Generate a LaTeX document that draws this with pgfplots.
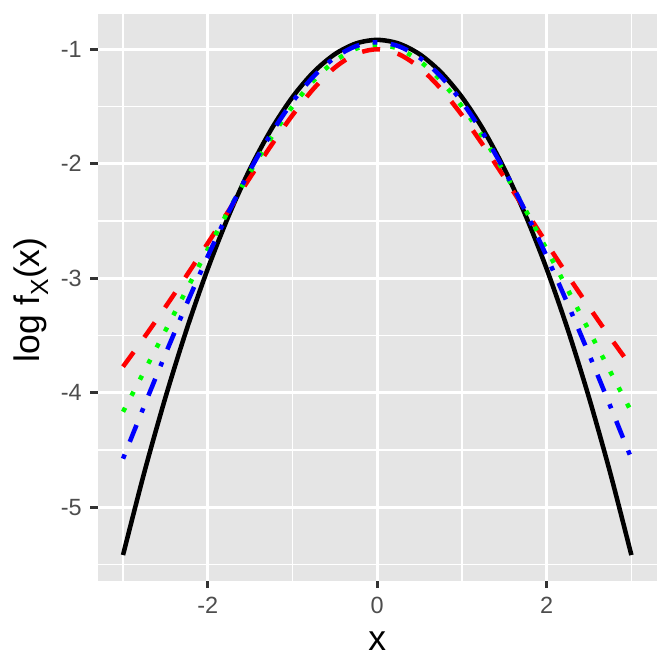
\documentclass[border=0pt]{standalone}
\usepackage{fontspec}
\setmainfont{Liberation Sans}
\usepackage{pgfplots}
\pgfplotsset{compat=1.18}
\definecolor{panel}{HTML}{E5E5E5}
\definecolor{tickc}{HTML}{333333}
\definecolor{labc}{HTML}{4D4D4D}
\begin{document}
\begin{tikzpicture}
\useasboundingbox (0,0) rectangle (252bp,252bp);
\begin{axis}[
 at={(36.6bp,34.2bp)}, anchor=south west,
 width=209.7bp, height=212.5bp, scale only axis,
 xmin=-3.3, xmax=3.3, ymin=-5.6439, ymax=-0.6939,
 xtick={-2,0,2}, xticklabels={-2,0,2},
 ytick={-5,-4,-3,-2,-1}, yticklabels={-5,-4,-3,-2,-1},
 minor xtick={-3,-1,1,3}, minor ytick={-5.5,-4.5,-3.5,-2.5,-1.5},
 grid=both,
 major grid style={white, line width=1.07bp},
 minor grid style={white, line width=0.53bp},
 axis background/.style={fill=panel},
 axis line style={draw=none},
 tick align=outside, xtick pos=bottom, ytick pos=left,
 major tick length=2.75bp, minor tick length=0pt,
 tick style={tickc, line width=1.07bp},
 tick label style={font=\fontsize{8.8bp}{10bp}\selectfont, text=labc, inner sep=0pt},
 xticklabel shift=3bp, yticklabel shift=3bp,
]
\addplot[black, line width=1.7bp, smooth] coordinates {
(-3,-5.4189) (-2.75,-4.7002) (-2.5,-4.0439) (-2.25,-3.4502) (-2,-2.9189) (-1.75,-2.4502) (-1.5,-2.0439) (-1.25,-1.7002) (-1,-1.4189) (-0.75,-1.2002) (-0.5,-1.0439) (-0.25,-0.9502) (0,-0.9189)
(0.25,-0.9502) (0.5,-1.0439) (0.75,-1.2002) (1,-1.4189) (1.25,-1.7002) (1.5,-2.0439) (1.75,-2.4502) (2,-2.9189) (2.25,-3.4502) (2.5,-4.0439) (2.75,-4.7002) (3,-5.4189)};
\addplot[red, line width=1.7bp, smooth, dash pattern=on 6.8bp off 6.8bp] coordinates {
(-3,-3.7735) (-2.75,-3.5183) (-2.5,-3.2529) (-2.25,-2.9781) (-2,-2.6955) (-1.75,-2.4079) (-1.5,-2.1201) (-1.25,-1.8394) (-1,-1.5763) (-0.75,-1.3446) (-0.5,-1.1610) (-0.25,-1.0421) (0,-1.0009)
(0.25,-1.0421) (0.5,-1.1610) (0.75,-1.3446) (1,-1.5763) (1.25,-1.8394) (1.5,-2.1201) (1.75,-2.4079) (2,-2.6955) (2.25,-2.9781) (2.5,-3.2529) (2.75,-3.5183) (3,-3.7735)};
\addplot[green, line width=1.7bp, smooth, dash pattern=on 1.7bp off 5.1bp] coordinates {
(-3,-4.1674) (-2.75,-3.8148) (-2.5,-3.4586) (-2.25,-3.1017) (-2,-2.7483) (-1.75,-2.4038) (-1.5,-2.0750) (-1.25,-1.7705) (-1,-1.4999) (-0.75,-1.2741) (-0.5,-1.1033) (-0.25,-0.9967) (0,-0.9604)
(0.25,-0.9967) (0.5,-1.1033) (0.75,-1.2741) (1,-1.4999) (1.25,-1.7705) (1.5,-2.0750) (1.75,-2.4038) (2,-2.7483) (2.25,-3.1017) (2.5,-3.4586) (2.75,-3.8148) (3,-4.1674)};
\addplot[blue, line width=1.7bp, smooth, dash pattern=on 1.7bp off 5.1bp on 6.8bp off 5.1bp] coordinates {
(-3,-4.5772) (-2.75,-4.1163) (-2.5,-3.6649) (-2.25,-3.2276) (-2,-2.8097) (-1.75,-2.4172) (-1.5,-2.0568) (-1.25,-1.7354) (-1,-1.4600) (-0.75,-1.2375) (-0.5,-1.0738) (-0.25,-0.9735) (0,-0.9397)
(0.25,-0.9735) (0.5,-1.0738) (0.75,-1.2375) (1,-1.4600) (1.25,-1.7354) (1.5,-2.0568) (1.75,-2.4172) (2,-2.8097) (2.25,-3.2276) (2.5,-3.6649) (2.75,-4.1163) (3,-4.5772)};
\end{axis}
\node[anchor=base, font=\fontsize{13.3bp}{15bp}\selectfont] at (141.45bp,8.25bp) {x};
\node[rotate=90, anchor=center, font=\fontsize{13.3bp}{15bp}\selectfont] at (11.6bp,139.5bp) {log f\raisebox{-0.25em}{\fontsize{9.3bp}{10bp}\selectfont X}(x)};
\end{tikzpicture}
\end{document}
